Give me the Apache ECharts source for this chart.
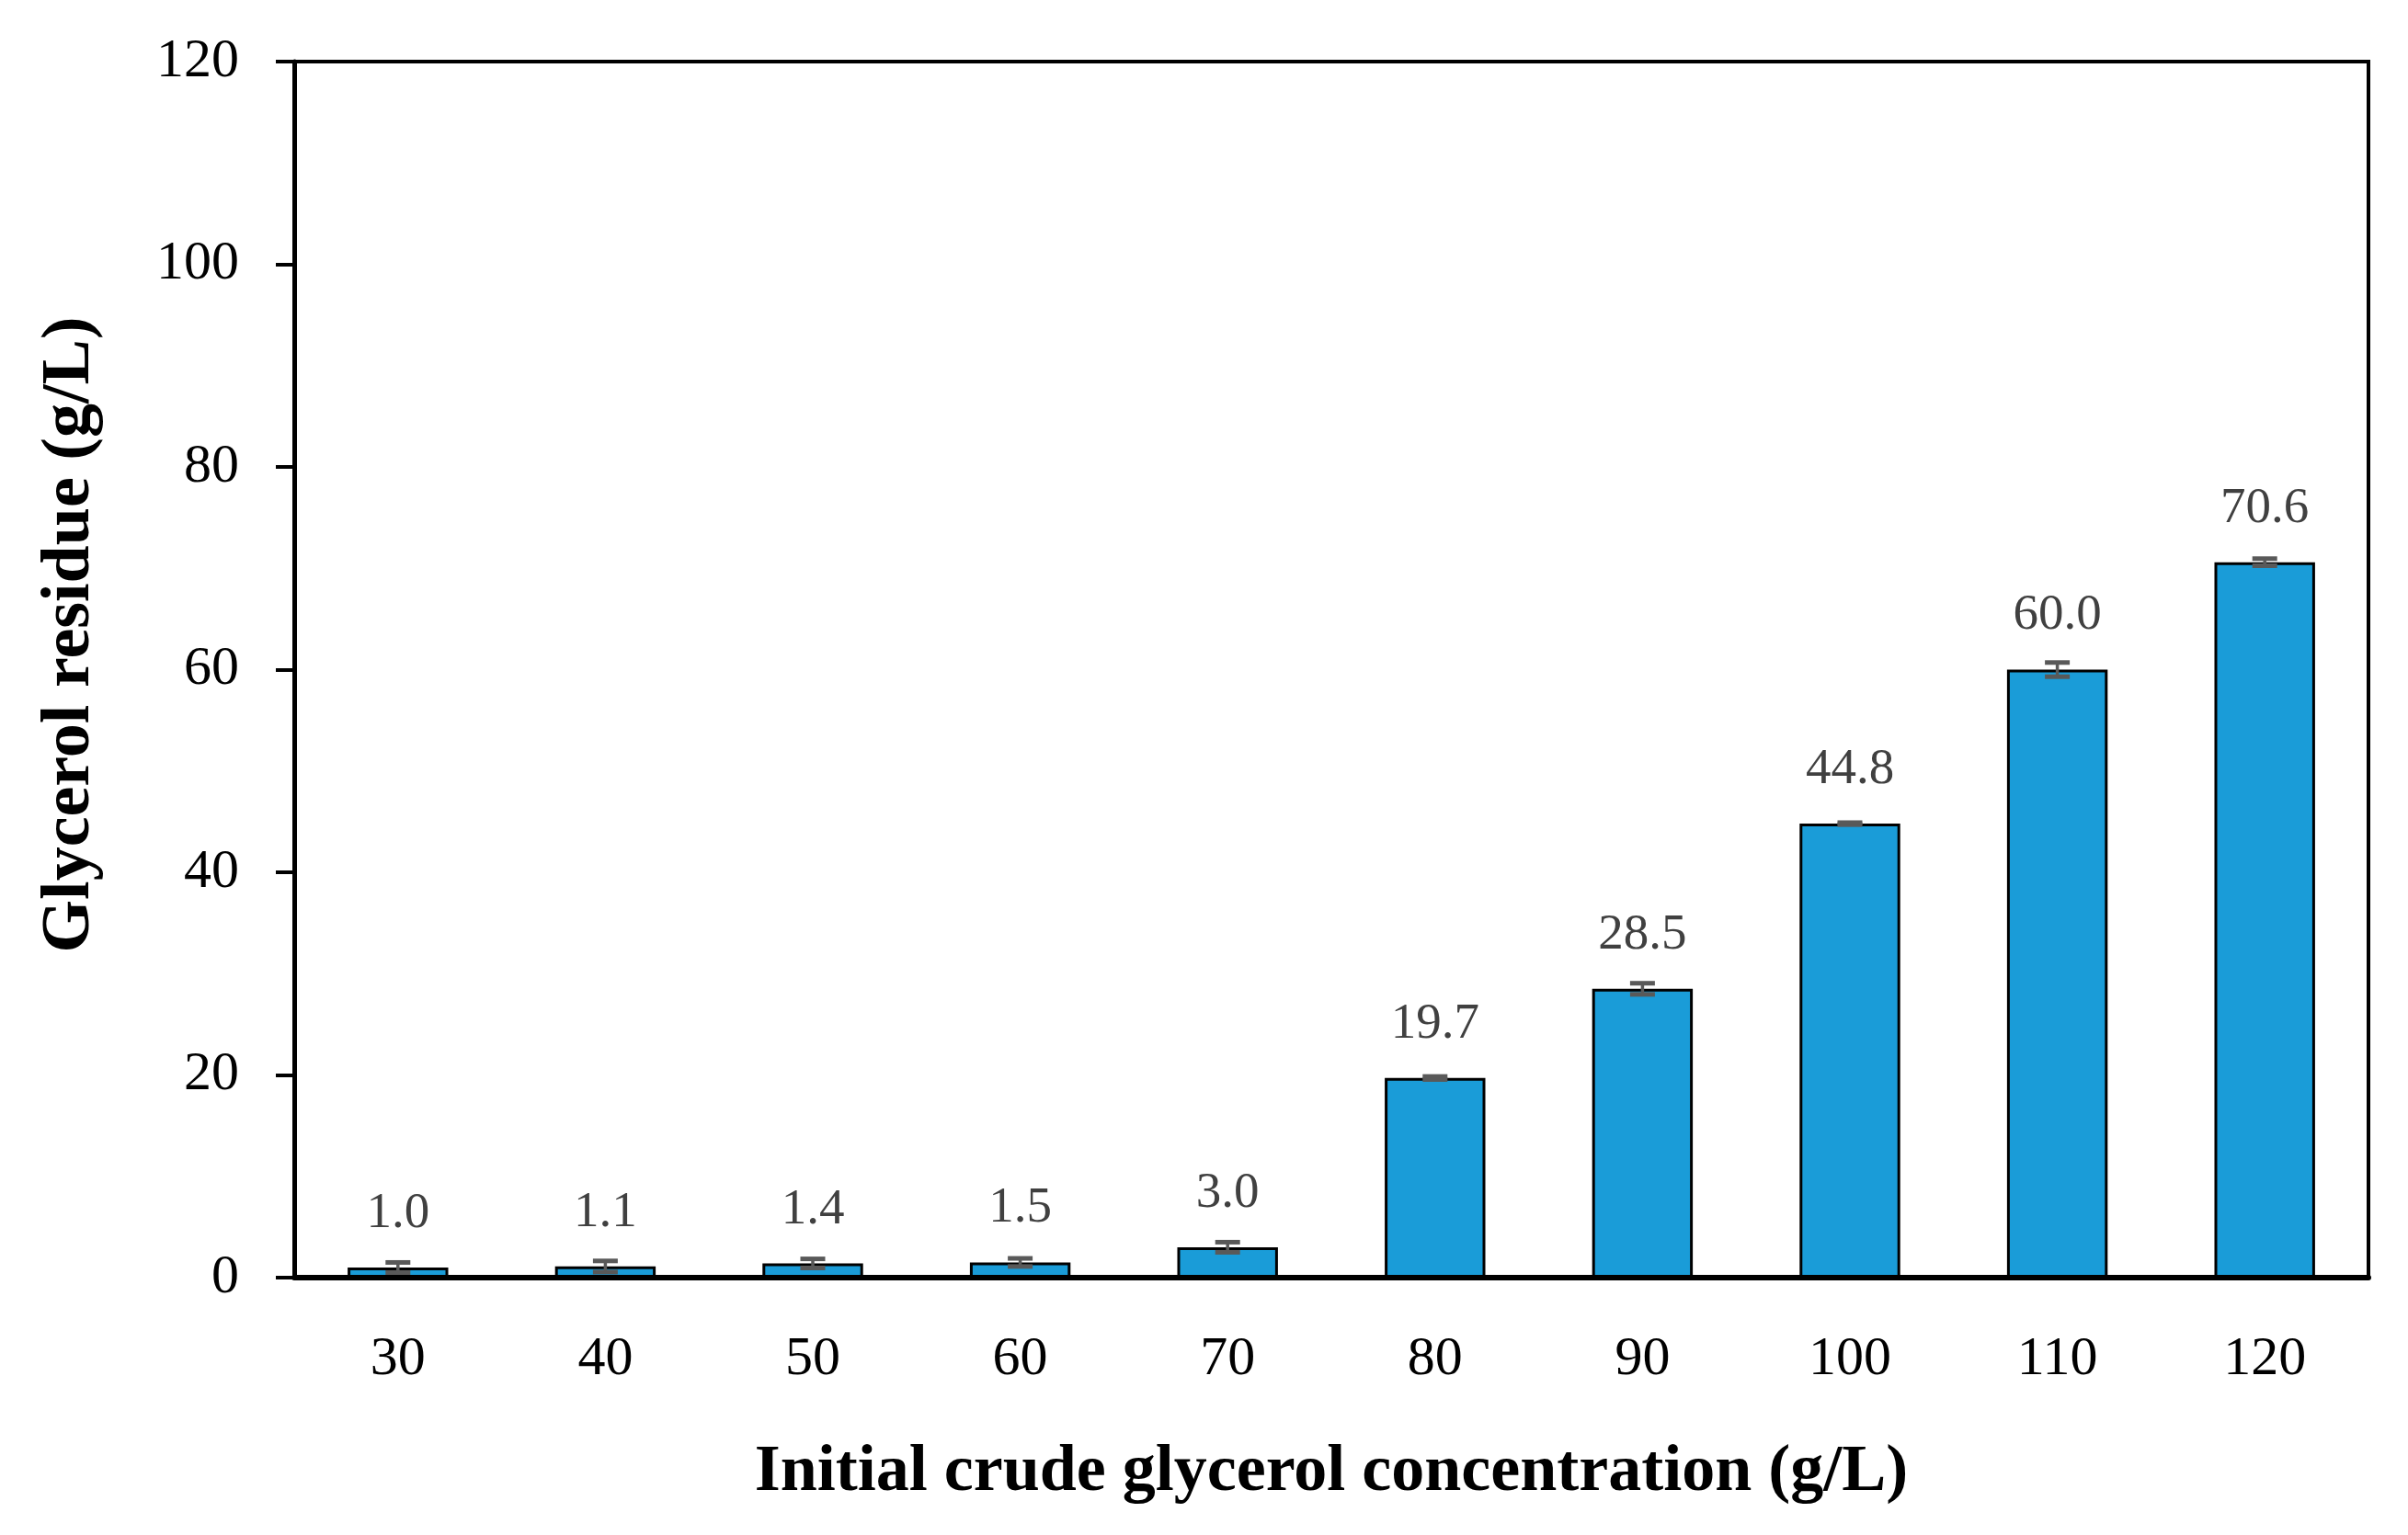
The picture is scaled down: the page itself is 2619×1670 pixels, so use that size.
<!DOCTYPE html>
<html>
<head>
<meta charset="utf-8">
<script src="https://cdn.jsdelivr.net/npm/echarts@6/dist/echarts.min.js"></script>
<style>html,body{margin:0;padding:0;background:#fff;}#c{width:2619px;height:1670px;}</style>
</head>
<body>
<div id="c"></div>
<script>
var categories = ['30','40','50','60','70','80','90','100','110','120'];
var values = [1.0, 1.1, 1.4, 1.5, 3.0, 19.7, 28.5, 44.8, 60.0, 70.6];
var errors = [0.5, 0.55, 0.45, 0.4, 0.5, 0.15, 0.55, 0.1, 0.7, 0.35];
var yTicks = [0, 20, 40, 60, 80, 100, 120];

var FONT = '"Liberation Serif", "DejaVu Serif", serif';
var chart = echarts.init(document.getElementById('c'), null, {renderer: 'canvas'});
var errData = values.map(function (v, i) { return [i, v - errors[i], v + errors[i]]; });

chart.setOption({
  animation: false,
  backgroundColor: '#fff',
  grid: {left: 320, right: 43, top: 67, bottom: 280, show: true, borderColor: '#000', borderWidth: 4, backgroundColor: 'transparent'},
  xAxis: {
    type: 'category',
    data: categories,
    name: 'Initial crude glycerol concentration (g/L)',
    nameLocation: 'middle',
    nameGap: 176,
    nameTextStyle: {fontFamily: FONT, fontWeight: 'bold', fontSize: 72, color: '#000'},
    axisLine: {lineStyle: {color: '#000', width: 6}},
    axisTick: {show: false},
    axisLabel: {fontFamily: FONT, fontSize: 60, color: '#000', margin: 59}
  },
  yAxis: {
    type: 'value',
    min: 0, max: 120, interval: 20,
    name: 'Glycerol residue (g/L)',
    nameLocation: 'middle',
    nameGap: 206,
    nameRotate: 90,
    nameTextStyle: {fontFamily: FONT, fontWeight: 'bold', fontSize: 74, color: '#000', padding: [0, 0, 0, 76]},
    axisLine: {show: true, lineStyle: {color: '#000', width: 5}},
    axisTick: {show: true, inside: false, length: 20, lineStyle: {color: '#000', width: 4}},
    splitLine: {show: false},
    axisLabel: {fontFamily: FONT, fontSize: 60, color: '#000', margin: 60,
      formatter: function (v) { return yTicks.indexOf(v) >= 0 ? String(v) : ''; }}
  },
  series: [
    {
      type: 'bar',
      data: values,
      barWidth: '48.5%',
      itemStyle: {color: '#1A9CD8', borderColor: '#000', borderWidth: 3},
      label: {show: true, position: 'top', distance: 31, fontFamily: FONT, fontSize: 55, color: '#404040',
        formatter: function (p) { return p.value.toFixed(1); }},
      z: 2
    },
    {
      type: 'custom',
      data: errData,
      z: 5,
      renderItem: function (params, api) {
        var x = api.value(0);
        var lo = api.coord([x, api.value(1)]);
        var hi = api.coord([x, api.value(2)]);
        var hw = 13.5;
        var st = {stroke: '#595959', lineWidth: 3.5};
        var cap = {stroke: '#595959', lineWidth: 5};
        return {
          type: 'group',
          children: [
            {type: 'line', shape: {x1: lo[0], y1: lo[1], x2: hi[0], y2: hi[1]}, style: st},
            {type: 'line', shape: {x1: lo[0] - hw, y1: lo[1], x2: lo[0] + hw, y2: lo[1]}, style: cap},
            {type: 'line', shape: {x1: hi[0] - hw, y1: hi[1], x2: hi[0] + hw, y2: hi[1]}, style: cap}
          ]
        };
      }
    }
  ]
});
</script>
</body>
</html>
